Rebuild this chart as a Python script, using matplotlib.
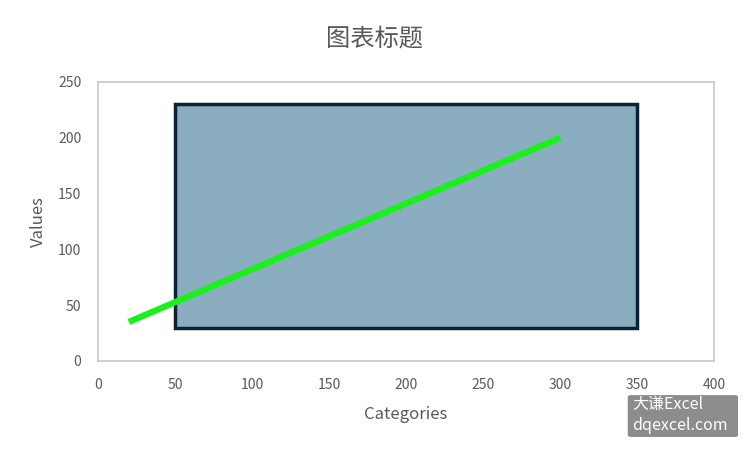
import matplotlib.pyplot as plt
from matplotlib.patches import Rectangle, FancyBboxPatch

plt.rcParams['font.family'] = ['Noto Sans CJK SC', 'DejaVu Sans']

title = "图表标题"
x_label = "Categories"
y_label = "Values"
x_ticks = [0, 50, 100, 150, 200, 250, 300, 350, 400]
y_ticks = [0, 50, 100, 150, 200, 250]

# rectangle shape: x range and y range
rect_x = [50, 350]
rect_y = [30, 230]

# green line
line_x = [20, 300]
line_y = [35, 200]

gray = "#595959"

fig = plt.figure(figsize=(7.5, 4.5), dpi=100)
ax = fig.add_axes([0.1307, 0.1978, 0.8213, 0.62])

ax.add_patch(Rectangle((rect_x[0], rect_y[0]), rect_x[1] - rect_x[0], rect_y[1] - rect_y[0],
                       facecolor="#8AADBF", edgecolor="#0C2232", linewidth=2.5, zorder=2))
ax.plot(line_x, line_y, color="#1AF01A", linewidth=4.5, solid_capstyle="butt", zorder=3)

ax.set_xlim(0, 400)
ax.set_ylim(0, 250)
ax.set_xticks(x_ticks)
ax.set_yticks(y_ticks)
ax.tick_params(length=0, labelsize=10, colors=gray)
ax.tick_params(axis="x", pad=12)
ax.tick_params(axis="y", pad=12)
for sp in ax.spines.values():
    sp.set_color("#C8C8C8")
    sp.set_linewidth(1.2)

ax.set_xlabel(x_label, fontsize=12, color=gray, labelpad=10)
ax.set_ylabel(y_label, fontsize=12, color=gray, labelpad=8)
fig.text(0.5, 0.915, title, ha="center", va="center", fontsize=17.5, color=gray)

# watermark
fig.patches.append(FancyBboxPatch((0.837, 0.029), 0.147, 0.093, boxstyle="round,pad=0,rounding_size=0.004",
                                  transform=fig.transFigure, facecolor="#8C8C8C", edgecolor="none"))
fig.text(0.843, 0.1, "大谦Excel", fontsize=11.5, color="white", va="center", ha="left")
fig.text(0.843, 0.054, "dqexcel.com", fontsize=11.5, color="white", va="center", ha="left")

fig.savefig("out.png", dpi=100)
